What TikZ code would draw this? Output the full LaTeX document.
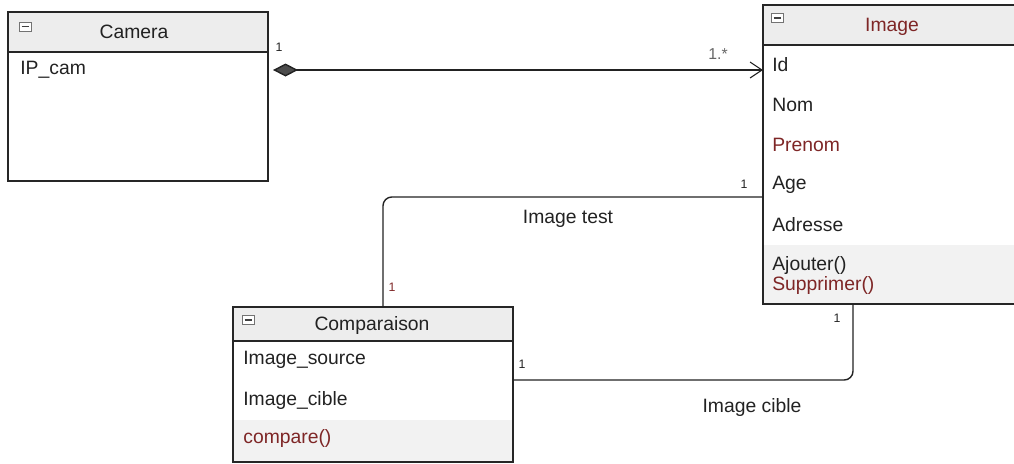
\documentclass[tikz,border=0pt]{standalone}
\usepackage{fontspec}
\setmainfont{Liberation Sans}
\usetikzlibrary{arrows.meta,positioning}
\definecolor{ink}{HTML}{222222}
\definecolor{rust}{HTML}{7E2626}
\tikzset{cls/.style={draw=black!85,line width=.8pt},
 hd/.style={fill=black!7},ops/.style={fill=black!5},
 ttl/.style={font=\fontsize{11}{13}\selectfont,text=ink},
 att/.style={anchor=west,inner sep=0,font=\fontsize{11}{13}\selectfont,text=ink},
 mul/.style={font=\fontsize{7}{8}\selectfont,text=ink,inner sep=0},
 ico/.style={draw=black!55,fill=white,minimum width=2.4mm,minimum height=1.8mm,inner sep=0,
  path picture={\draw[black!75,line width=.6pt] ([xshift=.5mm]path picture bounding box.west)--([xshift=-.5mm]path picture bounding box.east);}},
 wire/.style={line width=.8pt,draw=ink},
 comp/.style={wire,shorten <=1mm,{Diamond[length=5mm,width=2.6mm,fill=black!70]}-{Straight Barb[length=2.4mm,width=3.2mm,line width=.6pt]}}}

\begin{document}
\begin{tikzpicture}
\useasboundingbox (0,0) rectangle (20.28,-9.26);
% Camera
\fill[hd] (0.16,-0.24) rectangle (5.36,-1.04);
\draw[cls] (0.16,-0.24) rectangle (5.36,-3.62);\draw[cls] (0.16,-1.04)--(5.36,-1.04);
\node[ico] (camI) at (0.50,-0.53) {};
\node[ttl] (camT) at (2.68,-0.64) {Camera};
\node[att] (ipcam) at (0.40,-1.40) {IP\_cam};
% Image (runs off the right side)
\fill[hd] (15.26,-0.10) rectangle (20.28,-0.90);
\fill[ops] (15.26,-4.90) rectangle (20.28,-6.08);
\draw[cls] (20.4,-0.10) -| (15.26,-6.08) -- (20.4,-6.08);\draw[cls] (15.26,-0.90)--(20.4,-0.90);
\node[ico] (imgI) at (15.54,-0.36) {};
\node[ttl,text=rust] (imgT) at (17.84,-0.54) {Image};
\node[att] (id) at (15.44,-1.30) {Id};
\node[att] (nom) at (15.44,-2.10) {Nom};
\node[att,text=rust] (prenom) at (15.44,-2.90) {Prenom};
\node[att] (age) at (15.44,-3.70) {Age};
\node[att] (adr) at (15.44,-4.50) {Adresse};
\node[att] (ajout) at (15.44,-5.30) {Ajouter()};
\node[att,text=rust] (suppr) at (15.44,-5.70) {Supprimer()};
% Comparaison
\fill[hd] (4.66,-6.14) rectangle (10.26,-6.82);
\fill[ops] (4.66,-8.40) rectangle (10.26,-9.24);
\draw[cls] (4.66,-6.14) rectangle (10.26,-9.24);\draw[cls] (4.66,-6.82)--(10.26,-6.82);
\node[ico] (cmpI) at (4.96,-6.40) {};
\node[ttl] (cmpT) at (7.44,-6.50) {Comparaison};
\node[att] (src) at (4.86,-7.20) {Image\_source};
\node[att] (cib) at (4.86,-8.00) {Image\_cible};
\node[att,text=rust] (cmpf) at (4.86,-8.76) {compare()};
% associations
\coordinate (camR) at (5.36,-1.40);\coordinate (imgL) at (15.26,-1.40);
\coordinate (tA) at (15.26,-3.94);\coordinate (tB) at (7.66,-6.14);
\coordinate (cA) at (10.26,-7.60);\coordinate (cB) at (17.06,-6.08);
\draw[comp] (camR)--(imgL);
\draw[wire,rounded corners=5pt] (tA) -| (tB);
\draw[wire,rounded corners=5pt] (cA) -| (cB);
\node[mul] (m1) at (5.58,-0.94) {1};
\node[mul,font=\fontsize{9}{10}\selectfont,text=black!60] (m2) at (14.36,-1.08) {1.*};
\node[mul] (m3) at (14.88,-3.68) {1};
\node[mul,text=rust] (m4) at (7.84,-5.74) {1};
\node[mul] (m5) at (10.44,-7.28) {1};
\node[mul] (m6) at (16.74,-6.36) {1};
\node[ttl] (rt) at (11.36,-4.38) {Image test};
\node[ttl] (rc) at (15.04,-8.14) {Image cible};
\end{tikzpicture}
\end{document}
